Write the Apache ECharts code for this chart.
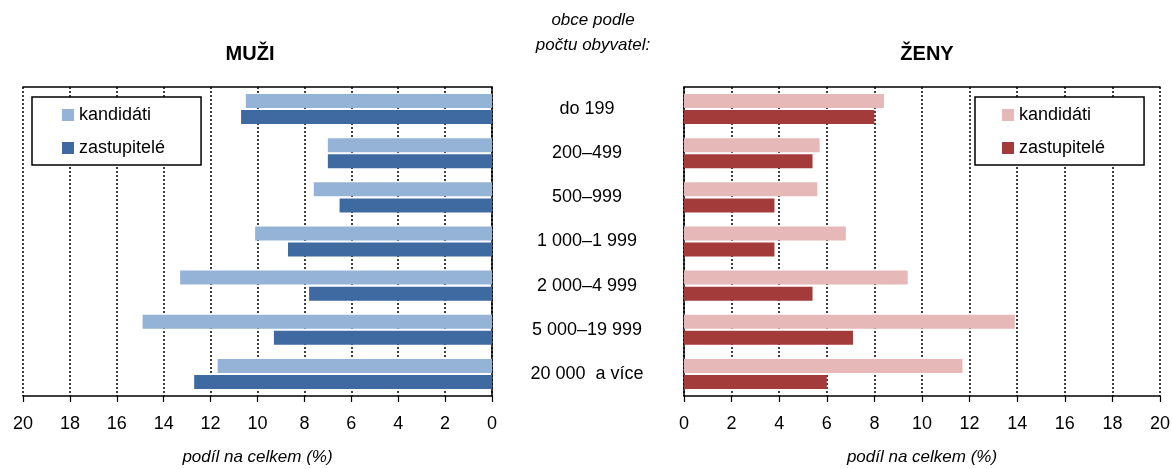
<!DOCTYPE html>
<html><head><meta charset="utf-8">
<script src="https://cdn.jsdelivr.net/npm/echarts@6/dist/echarts.min.js"></script>
<style>html,body{margin:0;padding:0;background:#fff}#c{width:1172px;height:469px}</style>
</head><body><div id="c"></div>
<script>
const categories = ['do 199', '200–499', '500–999', '1 000–1 999', '2 000–4 999', '5 000–19 999', '20 000  a více'];
const xTicks = [0, 2, 4, 6, 8, 10, 12, 14, 16, 18, 20];
const muziKandidati = [10.5, 7.0, 7.6, 10.1, 13.3, 14.9, 11.7];
const muziZastupitele = [10.7, 7.0, 6.5, 8.7, 7.8, 9.3, 12.7];
const zenyKandidati = [8.4, 5.7, 5.6, 6.8, 9.4, 13.9, 11.7];
const zenyZastupitele = [8.0, 5.4, 3.8, 3.8, 5.4, 7.1, 6.0];

const FONT = '"Liberation Sans", Arial, sans-serif';
const chart = echarts.init(document.getElementById('c'), null, {renderer: 'canvas'});

function valAxis(gi, inverse) {
  return {
    type: 'value', gridIndex: gi, min: xTicks[0], max: xTicks[xTicks.length - 1], interval: 2, inverse: inverse,
    axisLine: {show: true, lineStyle: {color: '#000', width: 1.5}},
    axisTick: {show: true, inside: false, length: 6, lineStyle: {color: '#000', width: 1.2}},
    axisLabel: {color: '#000', fontSize: 18, fontFamily: FONT, margin: 19},
    splitLine: {show: true, lineStyle: {color: '#000', type: [2, 2], width: 1.5}},
    name: 'podíl na celkem (%)', nameLocation: 'middle', nameGap: 53,
    nameTextStyle: {color: '#000', fontSize: 17, fontStyle: 'italic', fontFamily: FONT}
  };
}
function topAxis(gi, inverse) {
  return {
    type: 'value', gridIndex: gi, position: 'top', min: 0, max: 20, interval: 2, inverse: inverse,
    axisLine: {show: true, onZero: false, lineStyle: {color: '#000', width: 1.5}},
    axisTick: {show: false}, axisLabel: {show: false}, splitLine: {show: false}
  };
}
function legend(names, left, padLeft, padRight) {
  return {
    data: names, orient: 'vertical', left: left, top: 97, icon: 'rect',
    itemWidth: 12, itemHeight: 12, itemGap: 13, backgroundColor: '#fff',
    padding: [8, padRight, 7, padLeft], borderColor: '#000', borderWidth: 1.5,
    textStyle: {fontSize: 18, color: '#000', fontFamily: FONT, lineHeight: 20}
  };
}

const option = {
  animation: false,
  backgroundColor: '#fff',
  textStyle: {fontFamily: FONT},
  title: [
    {text: 'MUŽI', left: 245, top: 39, textAlign: 'center',
     textStyle: {fontSize: 20, fontWeight: 'bold', color: '#000', fontFamily: FONT}},
    {text: 'ŽENY', left: 922, top: 39, textAlign: 'center',
     textStyle: {fontSize: 20, fontWeight: 'bold', color: '#000', fontFamily: FONT}},
    {text: 'obce podle\npočtu obyvatel:', left: 588, top: 3, textAlign: 'center',
     textStyle: {fontSize: 17, fontStyle: 'italic', fontWeight: 'normal', color: '#000', fontFamily: FONT, lineHeight: 25}}
  ],
  legend: [
    legend(['kandidáti', 'zastupitelé'], 32, 30, 36),
    legend(['kandidáti ', 'zastupitelé '], 975, 27, 34)
  ],
  grid: [
    {left: 23, right: 680, top: 87, bottom: 73, containLabel: false, outerBoundsMode: 'none'},
    {left: 684, right: 12, top: 87, bottom: 73, containLabel: false, outerBoundsMode: 'none'}
  ],
  xAxis: [valAxis(0, true), valAxis(1, false), topAxis(0, true), topAxis(1, false)],
  yAxis: [
    {type: 'category', gridIndex: 0, data: categories, inverse: true, position: 'right',
     axisLine: {show: true, lineStyle: {color: '#000', width: 1.5}}, axisTick: {show: false},
     axisLabel: {color: '#000', fontSize: 18, fontFamily: FONT, align: 'center', margin: 95}},
    {type: 'category', gridIndex: 1, data: categories, inverse: true, position: 'left',
     axisLine: {show: true, lineStyle: {color: '#000', width: 1.5}}, axisTick: {show: false},
     axisLabel: {show: false}}
  ],
  series: [
    {name: 'kandidáti', type: 'bar', xAxisIndex: 0, yAxisIndex: 0, data: muziKandidati,
     barWidth: 14, barGap: '15%', itemStyle: {color: '#95B3D7'}},
    {name: 'zastupitelé', type: 'bar', xAxisIndex: 0, yAxisIndex: 0, data: muziZastupitele,
     barWidth: 14, barGap: '15%', itemStyle: {color: '#3E6AA1'}},
    {name: 'kandidáti ', type: 'bar', xAxisIndex: 1, yAxisIndex: 1, data: zenyKandidati,
     barWidth: 14, barGap: '15%', itemStyle: {color: '#E6B9B8'}},
    {name: 'zastupitelé ', type: 'bar', xAxisIndex: 1, yAxisIndex: 1, data: zenyZastupitele,
     barWidth: 14, barGap: '15%', itemStyle: {color: '#A23B3A'}}
  ]
};
chart.setOption(option);
</script></body></html>
